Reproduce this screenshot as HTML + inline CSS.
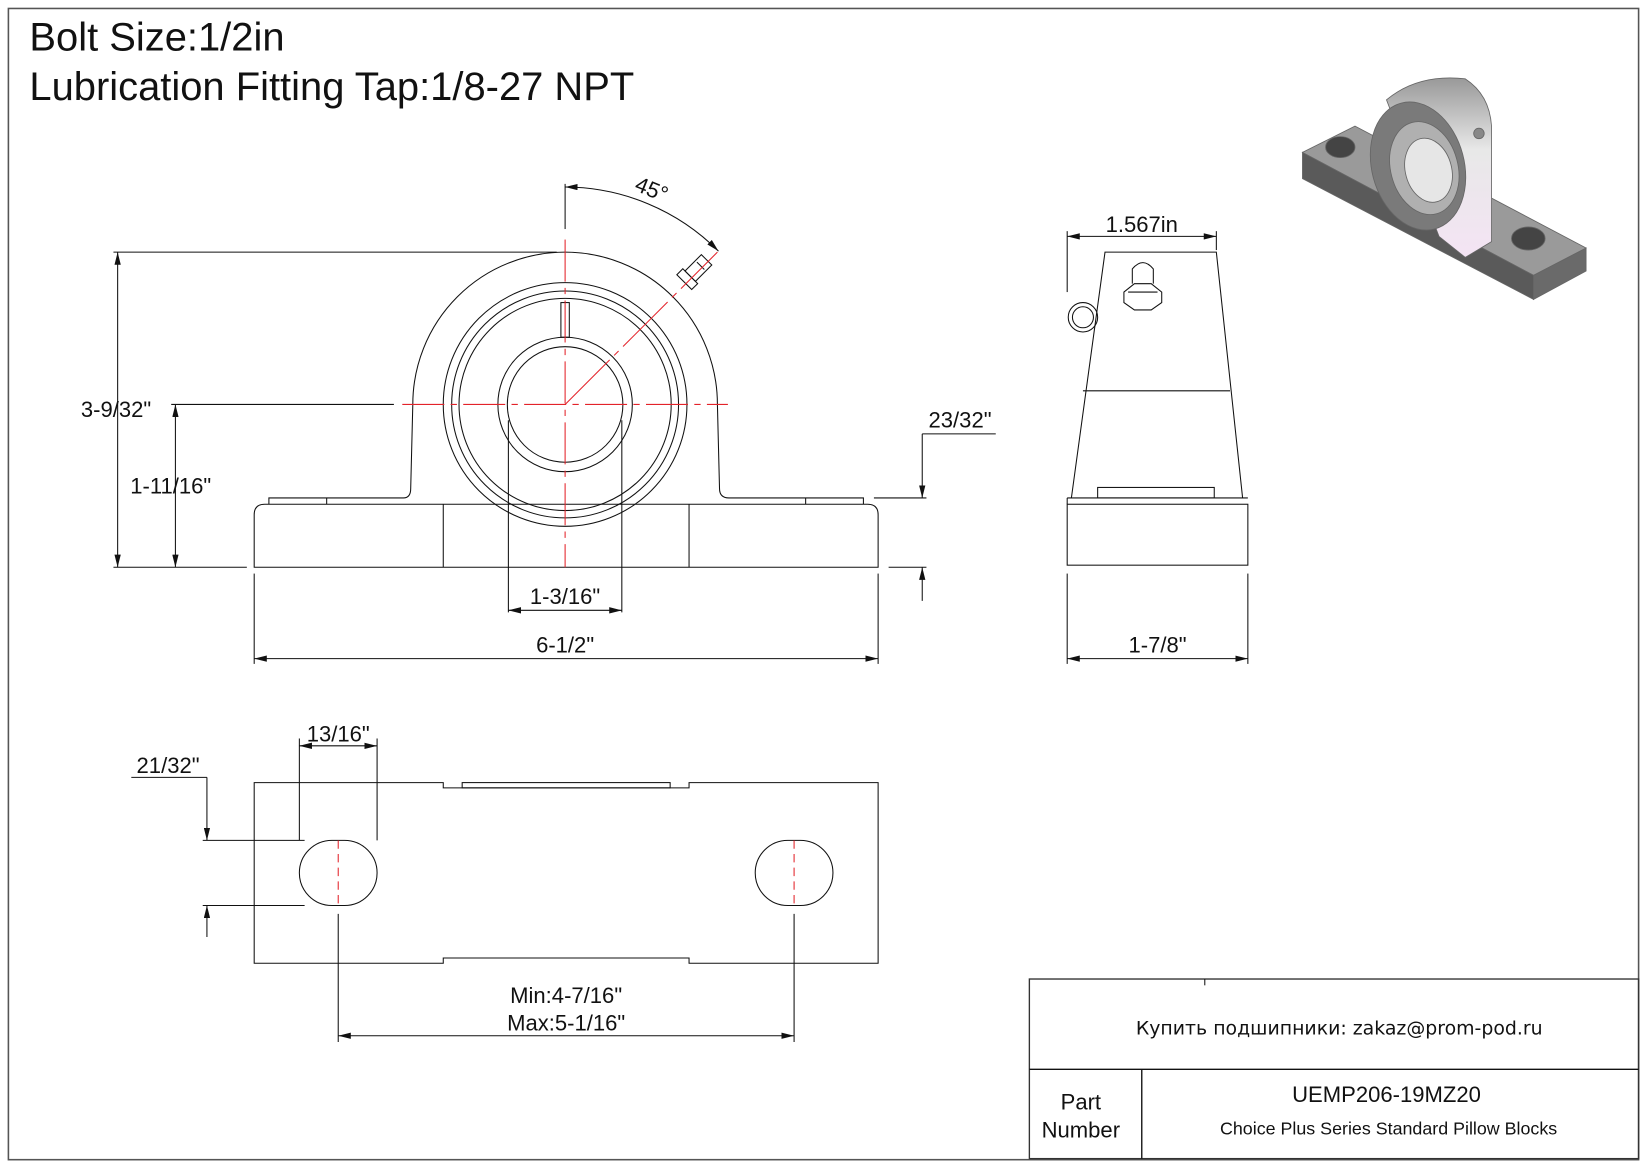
<!DOCTYPE html>
<html><head><meta charset="utf-8"><style>
html,body{margin:0;padding:0;background:#fff}
svg{display:block}
text{font-family:"Liberation Sans",Arial,sans-serif;fill:#111}
</style></head><body>
<svg width="1647" height="1165" viewBox="0 0 1568 1109" xmlns="http://www.w3.org/2000/svg">
<defs>
<marker id="a" viewBox="0 0 12 6" refX="12" refY="3" markerWidth="12" markerHeight="6" orient="auto-start-reverse" markerUnits="userSpaceOnUse"><path d="M0,0 L12,3 L0,6 z" fill="#111"/></marker>
<linearGradient id="g1" x1="0" y1="0" x2="0" y2="1"><stop offset="0" stop-color="#999"/><stop offset="0.4" stop-color="#e8e8e8"/><stop offset="1" stop-color="#f4e4f4"/></linearGradient>
</defs>
<rect x="8" y="8" width="1552" height="1096" fill="none" stroke="#555" stroke-width="1.5"/>
<text x="28" y="48" font-size="38">Bolt Size:1/2in</text>
<text x="28" y="95" font-size="38">Lubrication Fitting Tap:1/8-27 NPT</text>

<!-- 3D image -->
<g stroke="#666" stroke-width="0.8">
<polygon points="1240,145 1240,170 1460,285 1460,262" fill="#5a5a5a"/>
<polygon points="1460,262 1510,236 1510,258 1460,285" fill="#6a6a6a"/>
<polygon points="1240,145 1290,120 1510,236 1460,262" fill="#9a9a9a"/>
<ellipse cx="1276" cy="140" rx="14" ry="10" fill="#444"/>
<ellipse cx="1455" cy="227" rx="16" ry="11" fill="#444"/>
<path d="M1320,95 Q1350,70 1395,75 Q1418,90 1420,120 L1420,230 L1395,245 L1370,225 Z" fill="url(#g1)"/>
<ellipse cx="1350" cy="158" rx="44" ry="62" transform="rotate(-15 1350 158)" fill="#7a7a7a"/>
<ellipse cx="1356" cy="160" rx="32" ry="45" transform="rotate(-15 1356 160)" fill="#b0b0b0"/>
<ellipse cx="1360" cy="162" rx="22" ry="31" transform="rotate(-15 1360 162)" fill="#e6e6e6"/>
<circle cx="1408" cy="127" r="5" fill="#888"/>
</g>

<g fill="none" stroke="#111" stroke-width="1">
<path d="M242,540 L242,490 Q242,480 252,480 L826,480 Q836,480 836,490 L836,540 Z"/>
<path d="M256,480 L256,474 L384,474 Q391,474 391,465 L393,385 A145,145 0 0 1 683,385 L685,465 Q685,474 694,474 L822,474 L822,480"/>
<line x1="422" y1="480" x2="422" y2="540"/><line x1="656" y1="480" x2="656" y2="540"/>
<line x1="311" y1="474" x2="311" y2="480"/><line x1="767" y1="474" x2="767" y2="480"/>
<circle cx="538" cy="385" r="116"/><circle cx="538" cy="385" r="108"/><circle cx="538" cy="385" r="101"/>
<circle cx="538" cy="385" r="64"/><circle cx="538" cy="385" r="55"/>
<rect x="534" y="288" width="8" height="33"/>
<line x1="484" y1="400" x2="484" y2="583"/><line x1="592" y1="400" x2="592" y2="583"/>
<g transform="rotate(45 655 265)"><rect x="645" y="262" width="20" height="8"/><rect x="648" y="240" width="14" height="22"/><line x1="650" y1="248" x2="660" y2="248"/></g>
<line x1="538" y1="175" x2="538" y2="218"/>
<path d="M538,178 A207,207 0 0 1 684,239" marker-start="url(#a)" marker-end="url(#a)"/>
<line x1="108" y1="240" x2="530" y2="240"/><line x1="108" y1="540" x2="235" y2="540"/>
<line x1="112" y1="240" x2="112" y2="540" marker-start="url(#a)" marker-end="url(#a)"/>
<line x1="163" y1="385" x2="375" y2="385"/>
<line x1="167" y1="385" x2="167" y2="540" marker-start="url(#a)" marker-end="url(#a)"/>
<line x1="878" y1="413" x2="948" y2="413"/>
<line x1="878" y1="413" x2="878" y2="474" marker-end="url(#a)"/>
<line x1="832" y1="474" x2="882" y2="474"/><line x1="846" y1="540" x2="882" y2="540"/>
<line x1="878" y1="572" x2="878" y2="540" marker-end="url(#a)"/>
<line x1="484" y1="581" x2="592" y2="581" marker-start="url(#a)" marker-end="url(#a)"/>
<line x1="242" y1="546" x2="242" y2="632"/><line x1="836" y1="546" x2="836" y2="632"/>
<line x1="242" y1="627" x2="836" y2="627" marker-start="url(#a)" marker-end="url(#a)"/>

<rect x="1016" y="480" width="172" height="58"/>
<line x1="1016" y1="480" x2="1016" y2="474"/>
<path d="M1020,474 L1052,240 L1158,240 L1183,474"/>
<line x1="1016" y1="474" x2="1188" y2="474"/>
<line x1="1031" y1="372" x2="1171" y2="372"/>
<rect x="1045" y="464" width="111" height="10"/>
<circle cx="1031" cy="302" r="14"/><circle cx="1031" cy="302" r="10"/>
<path d="M1070,278 L1080,270 L1096,270 L1106,278 L1106,288 L1096,295 L1080,295 L1070,288 Z"/>
<path d="M1078,270 L1078,256 Q1088,244 1098,256 L1098,270"/>
<line x1="1074" y1="278" x2="1102" y2="278"/>
<line x1="1016" y1="220" x2="1016" y2="278"/><line x1="1158" y1="220" x2="1158" y2="238"/>
<line x1="1016" y1="225" x2="1158" y2="225" marker-start="url(#a)" marker-end="url(#a)"/>
<line x1="1016" y1="546" x2="1016" y2="632"/><line x1="1188" y1="546" x2="1188" y2="632"/>
<line x1="1016" y1="627" x2="1188" y2="627" marker-start="url(#a)" marker-end="url(#a)"/>

<path d="M242,745 L422,745 L422,750 L656,750 L656,745 L836,745 L836,917 L656,917 L656,912 L422,912 L422,917 L242,917 Z"/>
<rect x="440" y="745" width="198" height="5"/>
<rect x="285" y="800" width="74" height="62" rx="31"/>
<rect x="719" y="800" width="74" height="62" rx="31"/>
<line x1="285" y1="703" x2="285" y2="800"/><line x1="359" y1="703" x2="359" y2="800"/>
<line x1="285" y1="710" x2="359" y2="710" marker-start="url(#a)" marker-end="url(#a)"/>
<line x1="125" y1="740" x2="197" y2="740"/>
<line x1="197" y1="740" x2="197" y2="800" marker-end="url(#a)"/>
<line x1="193" y1="800" x2="290" y2="800"/><line x1="193" y1="862" x2="290" y2="862"/>
<line x1="197" y1="892" x2="197" y2="862" marker-end="url(#a)"/>
<line x1="322" y1="870" x2="322" y2="992"/><line x1="756" y1="870" x2="756" y2="992"/>
<line x1="322" y1="986" x2="756" y2="986" marker-start="url(#a)" marker-end="url(#a)"/>

<rect x="980" y="932" width="580" height="171" stroke="#333" stroke-width="1.3"/>
<line x1="980" y1="1018" x2="1560" y2="1018" stroke-width="1.3"/>
<line x1="1087" y1="1018" x2="1087" y2="1103" stroke-width="1.3"/>
<line x1="1147" y1="932" x2="1147" y2="938"/>
</g>

<g stroke="#e3232a" stroke-width="1" fill="none">
<line x1="383" y1="385" x2="693" y2="385" stroke-dasharray="40,6,6,6"/>
<line x1="538" y1="228" x2="538" y2="540" stroke-dasharray="40,6,6,6"/>
<line x1="538" y1="385" x2="683" y2="240" stroke-dasharray="60,6,6,6"/>
<line x1="322" y1="800" x2="322" y2="862" stroke-dasharray="8,5"/>
<line x1="756" y1="800" x2="756" y2="862" stroke-dasharray="8,5"/>
</g>

<text x="604" y="188" font-size="21" transform="rotate(22 622 182)">45°</text>
<text x="77" y="397" font-size="21">3-9/32"</text>
<text x="124" y="470" font-size="21">1-11/16"</text>
<text x="884" y="407" font-size="21">23/32"</text>
<text x="538" y="575" font-size="21" text-anchor="middle">1-3/16"</text>
<text x="538" y="621" font-size="21" text-anchor="middle">6-1/2"</text>
<text x="1087" y="221" font-size="21" text-anchor="middle">1.567in</text>
<text x="1102" y="621" font-size="21" text-anchor="middle">1-7/8"</text>
<text x="322" y="706" font-size="21" text-anchor="middle">13/16"</text>
<text x="160" y="736" font-size="21" text-anchor="middle">21/32"</text>
<text x="539" y="955" font-size="21" text-anchor="middle">Min:4-7/16"</text>
<text x="539" y="981" font-size="21" text-anchor="middle">Max:5-1/16"</text>
<text x="1275" y="985" font-size="18" text-anchor="middle" style="font-family:'DejaVu Sans',sans-serif">Купить подшипники: zakaz@prom-pod.ru</text>
<text x="1029" y="1056" font-size="21" text-anchor="middle">Part</text>
<text x="1029" y="1083" font-size="21" text-anchor="middle">Number</text>
<text x="1320" y="1049" font-size="21" text-anchor="middle">UEMP206-19MZ20</text>
<text x="1322" y="1080" font-size="17" text-anchor="middle">Choice Plus Series Standard Pillow Blocks</text>
</svg>
</body></html>
